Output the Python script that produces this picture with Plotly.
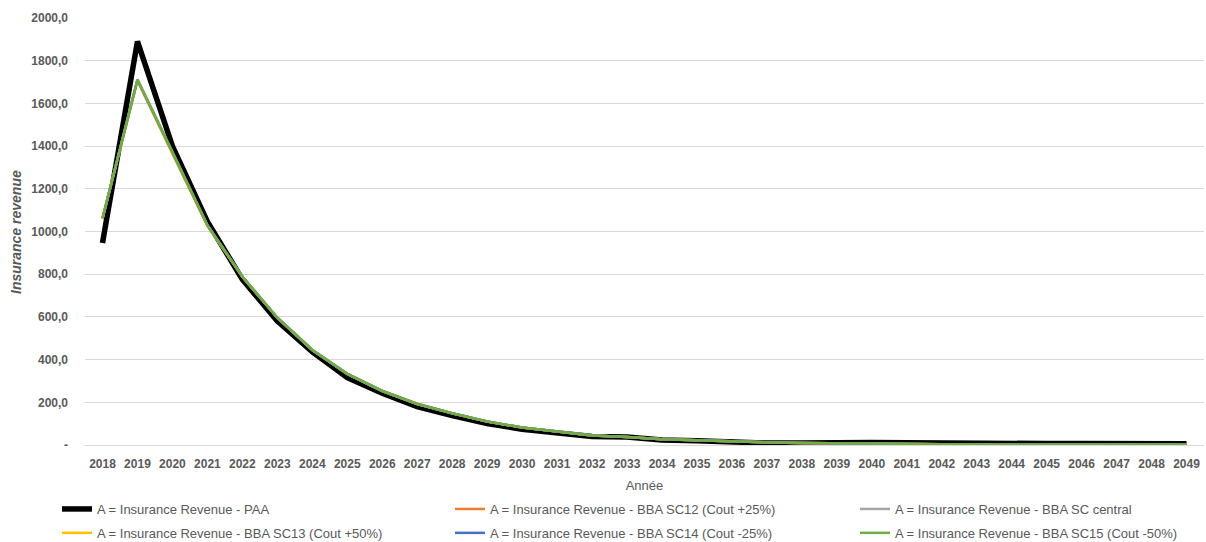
import plotly.graph_objects as go

years = list(range(2018, 2050))

paa = [946, 1890, 1400, 1046, 776, 580, 436, 316, 243, 180, 138, 100, 74, 55, 40, 38,
       23, 20, 14, 9, 9, 12, 12, 10, 8, 8, 8, 7, 7, 7, 6, 6]
sc12 = [1060, 1708, 1366, 1028, 788, 596, 445, 334, 254, 193, 149, 110, 82, 62, 45, 38,
        27, 22, 16, 12, 9, 7, 5, 4, 4, 3, 3, 3, 2, 2, 2, 2]
sc_central = [1061, 1710, 1369, 1029, 789, 596, 445, 333, 253, 192, 149, 110, 82, 62, 45, 38,
              27, 22, 16, 12, 9, 7, 5, 4, 4, 3, 3, 3, 2, 2, 2, 2]
sc13 = [1059, 1707, 1365, 1027, 787, 595, 444, 333, 253, 192, 148, 110, 82, 62, 45, 38,
        27, 22, 16, 12, 9, 7, 5, 4, 4, 3, 3, 3, 2, 2, 2, 2]
sc14 = [1062, 1711, 1371, 1030, 789, 596, 445, 333, 253, 192, 149, 110, 82, 62, 45, 38,
        27, 22, 16, 12, 9, 7, 5, 4, 4, 3, 3, 3, 2, 2, 2, 2]
sc15 = [1063, 1713, 1374, 1030, 789, 596, 446, 332, 253, 192, 149, 110, 82, 62, 45, 38,
        27, 22, 16, 12, 9, 7, 5, 4, 4, 3, 3, 3, 2, 2, 2, 2]

y_tickvals = [0, 200, 400, 600, 800, 1000, 1200, 1400, 1600, 1800, 2000]
y_ticktext = ["-", "200,0", "400,0", "600,0", "800,0", "1000,0", "1200,0",
              "1400,0", "1600,0", "1800,0", "2000,0"]

names = [
    "A = Insurance Revenue - PAA",
    "A = Insurance Revenue - BBA SC12 (Cout +25%)",
    "A = Insurance Revenue - BBA SC central",
    "A = Insurance Revenue - BBA SC13 (Cout +50%)",
    "A = Insurance Revenue - BBA SC14 (Cout -25%)",
    "A = Insurance Revenue - BBA SC15 (Cout -50%)",
]
series = [paa, sc12, sc_central, sc13, sc14, sc15]
colors = ["#000000", "#ED7D31", "#A5A5A5", "#FFC000", "#4472C4", "#70AD47"]
widths = [5.5, 2.5, 2.5, 2.5, 2.5, 2.5]
legends = ["legend", "legend2", "legend3", "legend", "legend2", "legend3"]

FONT = "Liberation Sans"
GREY = "#595959"

fig = go.Figure()
for n, s, c, w, lg in zip(names, series, colors, widths, legends):
    fig.add_trace(go.Scatter(
        x=years, y=s, name=n, mode="lines",
        line=dict(color=c, width=w),
        legend=lg, legendgroup=n,
    ))

leg_common = dict(
    orientation="v", xref="container", yref="container",
    xanchor="left", yanchor="top", bgcolor="rgba(0,0,0,0)",
    font=dict(family=FONT, size=13, color=GREY),
    tracegroupgap=4, itemwidth=30,
)

LEG_TOP = 1 - 494 / 542

fig.update_layout(
    width=1206, height=542,
    margin=dict(l=85, r=2, t=18, b=97, autoexpand=False),
    paper_bgcolor="white", plot_bgcolor="white",
    font=dict(family=FONT, size=12, color=GREY),
    showlegend=True,
    legend=dict(x=57 / 1206, y=LEG_TOP, **leg_common),
    legend2=dict(x=450 / 1206, y=LEG_TOP, **leg_common),
    legend3=dict(x=855 / 1206, y=LEG_TOP, **leg_common),
    xaxis=dict(
        range=[2017.5, 2049.5], tickmode="array", tickvals=years,
        ticktext=[str(y) for y in years], showgrid=False,
        showline=True, linecolor="#d9d9d9", linewidth=1,
        ticks="", ticklabelstandoff=8,
        tickfont=dict(family=FONT, size=12, color=GREY, weight="bold"),
        title=dict(text="Année", font=dict(family=FONT, size=13, color=GREY), standoff=10),
        zeroline=False,
    ),
    yaxis=dict(
        range=[0, 2000], tickmode="array", tickvals=y_tickvals, ticktext=y_ticktext,
        showgrid=True, gridcolor="#d9d9d9", gridwidth=1, zeroline=False,
        ticks="", ticklabelstandoff=16,
        tickfont=dict(family=FONT, size=12, color=GREY, weight="bold"),
    ),
    annotations=[dict(
        text="<b><i>Insurance revenue</i></b>", xref="paper", yref="paper",
        x=-(85 - 16) / 1119, y=(445 - 232) / 427, xanchor="center", yanchor="middle",
        textangle=-90, showarrow=False,
        font=dict(family=FONT, size=14, color=GREY),
    )],
)

fig.write_html("out.html", config={"displayModeBar": False},
               post_script="document.body.style.margin='0';")
